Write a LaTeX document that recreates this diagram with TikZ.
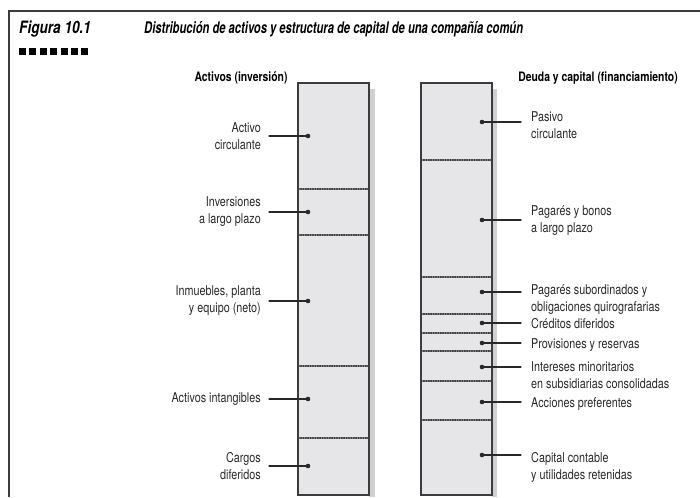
\documentclass[tikz,border=0pt]{standalone}
\usepackage{fontspec}
\setmainfont{TeX Gyre Heros}[FakeStretch=0.8]
\newfontfamily\headfont{TeX Gyre Heros}[FakeStretch=0.7]
\usepackage{tkz-euclide}
\usetikzlibrary{calc}
\usetikzlibrary{positioning}

\definecolor{frameclr}{RGB}{60,60,60}
\definecolor{boxfill}{RGB}{230,230,232}
\definecolor{boxshade}{RGB}{208,208,208}
\definecolor{txt}{RGB}{40,40,40}

\tikzset{
  lbl/.style   = {font=\fontsize{13.5}{17}\selectfont, text=txt, inner sep=0pt},
  hdr/.style   = {font=\fontsize{13}{17}\selectfont\bfseries, inner sep=0pt},
  ttl/.style   = {font=\headfont\fontsize{16}{20}\selectfont\bfseries\itshape, inner sep=0pt},
  column/.style = {draw=frameclr, line width=1.2pt, fill=boxfill},
  divider/.style = {draw=frameclr, line width=1.1pt, dash pattern=on 1.2pt off 1.2pt},
  lead/.style  = {draw=txt, line width=1.3pt}
}

\begin{document}
\begin{tikzpicture}[x=1pt, y=-1pt]
      \useasboundingbox (0,0) rectangle (700,497);

      % frame and title
      \draw[frameclr, line width=1.4pt] (700,11) -- (9,11) -- (9,497);
      \node[ttl, anchor=west, font=\fontsize{17}{20}\selectfont\bfseries\itshape] (fig) at (19,29) {Figura 10.1};
      \node[ttl, anchor=west] (title) at (144,29)
        {Distribución de activos y estructura de capital de una compañía común};
      \foreach \i in {0,...,6}
        \fill (19+10.4*\i,48) rectangle ++(7,7);

      \node[hdr] (hassets) at (241,78) {Activos (inversión)};
      \node[hdr] (hdebt) at (598,78) {Deuda y capital (financiamiento)};

      % the two columns
      \fill[boxshade] (369,89) rectangle (375,497);
      \fill[boxshade] (492,89) rectangle (497,497);
      \path[column] (298,83) rectangle (369,495);
      \path[column] (421,83) rectangle (492,495);

      \tkzDefPoints{298/189/A1, 368/189/B1, 298/235/A2, 368/235/B2,
                    298/366/A3, 368/366/B3, 298/438/A4, 368/438/B4}
      \tkzDefPoints{421/160/C1, 491/160/D1, 421/277/C2, 491/277/D2,
                    421/314/C3, 491/314/D3, 421/333/C4, 491/333/D4,
                    421/351/C5, 491/351/D5, 421/381/C6, 491/381/D6,
                    421/420/C7, 491/420/D7}
      \tkzDrawSegments[divider](A1,B1 A2,B2 A3,B3 A4,B4)
      \tkzDrawSegments[divider](C1,D1 C2,D2 C3,D3 C4,D4 C5,D5 C6,D6 C7,D7)

      % assets
      \tkzDefPoints{308/136/L1, 308/212/L2, 308/301/L3, 308/399/L4, 308/466/L5,
                    269/136/K1, 269/212/K2, 269/301/K3, 269/399/K4, 269/466/K5}
      \node[lbl, anchor=east, align=right] (circ) at (261,136) {Activo\\circulante};
      \node[lbl, anchor=east, align=right] (inv) at (261,212) {Inversiones\\a largo plazo};
      \node[lbl, anchor=east, align=right] (inm) at (261,301) {Inmuebles, planta\\y equipo (neto)};
      \node[lbl, anchor=east, align=right] (intang) at (261,399) {Activos intangibles};
      \node[lbl, anchor=east, align=right] (cargos) at (261,466) {Cargos\\diferidos};
      \tkzDrawSegments[lead](K1,L1 K2,L2 K3,L3 K4,L4 K5,L5)

      % debt and equity
      \tkzDefPoints{482/122/R1, 482/220/R2, 482/292/R3, 482/323/R4,
                    482/343/R5, 482/367/R6, 482/402/R7, 482/455/R8,
                    521/122/S1, 521/220/S2, 521/292/S3, 521/323/S4,
                    521/343/S5, 521/367/S6, 521/402/S7, 521/455/S8}
      \node[lbl, anchor=west, align=left] (pasivo) at (531,125) {Pasivo\\circulante};
      \node[lbl, anchor=west, align=left] (bonos) at (531,220.5) {Pagarés y bonos\\a largo plazo};
      \node[lbl, anchor=west, align=left] (subord) at (531,300) {Pagarés subordinados y\\obligaciones quirografarias};
      \node[lbl, anchor=west, align=left] (cred) at (531,324) {Créditos diferidos};
      \node[lbl, anchor=west, align=left] (prov) at (531,345) {Provisiones y reservas};
      \node[lbl, anchor=west, align=left] (minor) at (531,375.5) {Intereses minoritarios\\en subsidiarias consolidadas};
      \node[lbl, anchor=west, align=left] (pref) at (531,404) {Acciones preferentes};
      \node[lbl, anchor=west, align=left] (capital) at (531,467.5) {Capital contable\\y utilidades retenidas};
      \tkzDrawSegments[lead](R1,S1 R2,S2 R3,S3 R4,S4 R5,S5 R6,S6 R7,S7 R8,S8)

      \foreach \p in {L1,L2,L3,L4,L5,R1,R2,R3,R4,R5,R6,R7,R8}
        \fill[txt] (\p) circle (2.3pt);
    \end{tikzpicture}
\end{document}
